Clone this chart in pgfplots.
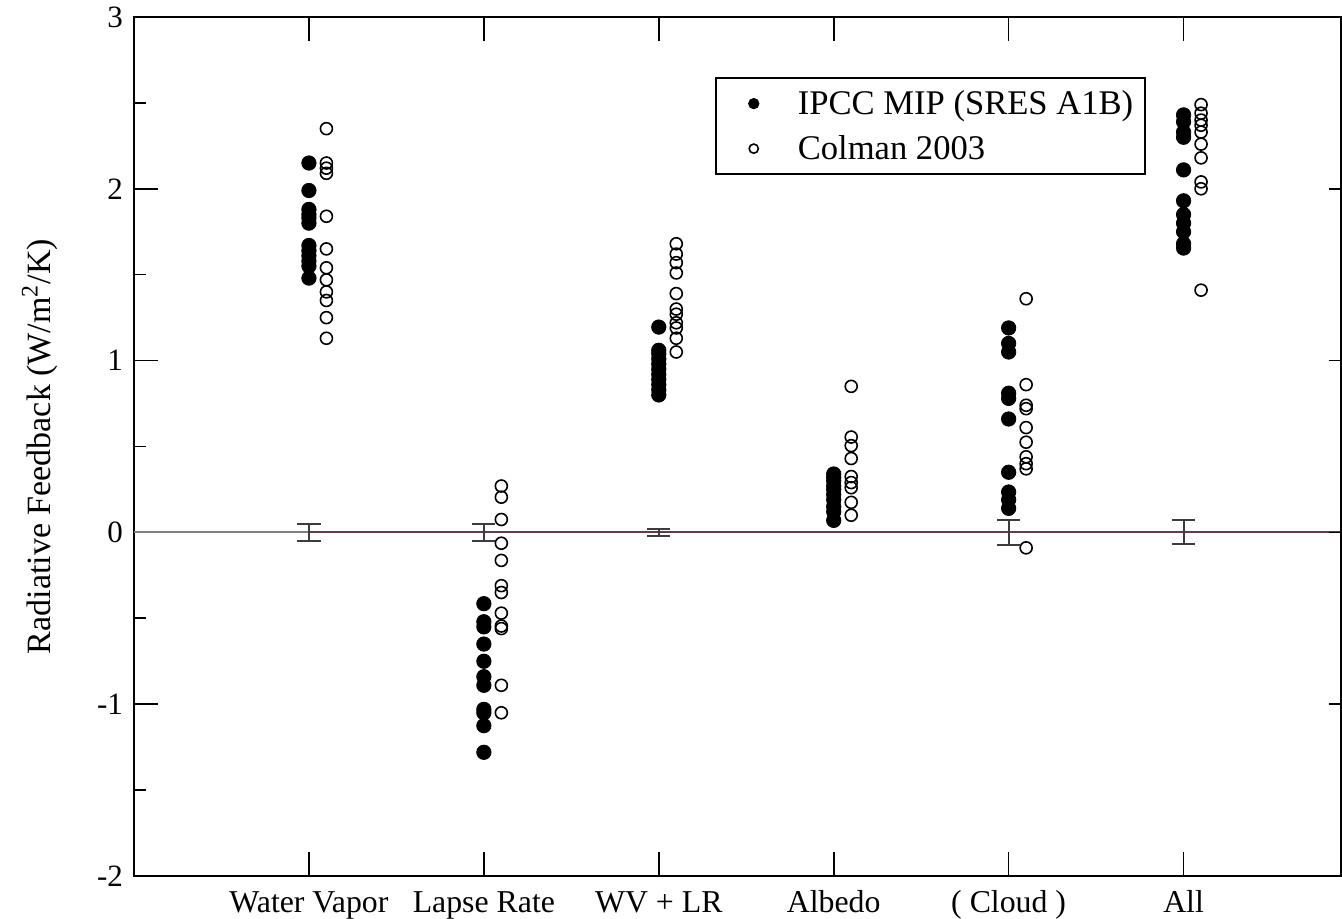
\documentclass[border=0pt]{standalone}
\usepackage{pgfplots}
\pgfplotsset{compat=1.18}
\usepackage{fontspec}
\setmainfont{Liberation Serif}
\definecolor{zeroline}{RGB}{95,60,80}
\definecolor{errgray}{RGB}{60,60,60}

\begin{document}
\begin{tikzpicture}
\begin{axis}[
  scale only axis,
  width=603.5pt, height=429.5pt,
  xmin=0, xmax=6.9,
  ymin=-2, ymax=3,
  axis line style={line width=1pt},
  xtick={1,2,3,4,5,6},
  xticklabels={Water Vapor, Lapse Rate, WV + LR, Albedo, ( Cloud ), All},
  ytick={-2,-1,0,1,2,3},
  minor ytick={-1.5,-0.5,0.5,1.5,2.5},
  ytick pos=left,
  major tick length=12pt,
  minor tick length=6pt,
  tick style={line width=0.8pt, black},
  /pgf/number format/assume math mode=true,
  tick label style={font=\fontsize{15.5}{18}\selectfont},
  xticklabel style={yshift=-4pt, font=\fontsize{15.9}{18}\selectfont,
    text height=10.5pt, text depth=3pt},
  yticklabel style={xshift=-2pt},
  ylabel={Radiative Feedback (W/m\textsuperscript{2}/K)},
  ylabel style={font=\fontsize{17}{19}\selectfont, yshift=13pt},
  legend style={at={(axis cs:3.32,2.65)}, anchor=north west,
    draw=black, line width=1pt, font=\fontsize{17.3}{20}\selectfont,
    inner xsep=4pt, inner ysep=4pt, row sep=5pt,
    nodes={inner sep=2pt}},
  legend cell align=left,
  legend image code/.code={\path[draw=none] (0,0) -- (35pt,0);
    \draw[#1] plot coordinates {(15pt,0pt)};},
  legend image post style={mark size=2.3pt},
  clip=false,
]
\coordinate (bl) at (rel axis cs:0,0);
\coordinate (tr) at (rel axis cs:1,1);

% filled: IPCC MIP, open: Colman 2003
\addplot[only marks, mark=*, mark size=3.6pt, black] coordinates {
(1,2.15)(1,1.99)(1,1.88)(1,1.85)(1,1.83)(1,1.80)(1,1.67)(1,1.64)(1,1.61)(1,1.58)(1,1.55)(1,1.48)
(2,-0.415)(2,-0.52)(2,-0.55)(2,-0.65)(2,-0.75)(2,-0.84)(2,-0.89)(2,-1.03)(2,-1.05)(2,-1.125)(2,-1.28)
(3,1.195)(3,1.06)(3,1.04)(3,1.01)(3,0.98)(3,0.95)(3,0.92)(3,0.89)(3,0.86)(3,0.83)(3,0.80)
(4,0.34)(4,0.32)(4,0.30)(4,0.27)(4,0.25)(4,0.22)(4,0.19)(4,0.15)(4,0.12)(4,0.07)
(5,1.19)(5,1.10)(5,1.05)(5,0.81)(5,0.78)(5,0.66)(5,0.35)(5,0.235)(5,0.19)(5,0.14)
(6,2.43)(6,2.39)(6,2.33)(6,2.30)(6,2.11)(6,1.93)(6,1.85)(6,1.80)(6,1.75)(6,1.68)(6,1.655)
};
\addlegendentry{IPCC MIP (SRES A1B)}
\addplot[only marks, mark=o, mark size=3pt, black, mark options={line width=0.8pt}] coordinates {
(1.1,2.35)(1.1,2.15)(1.1,2.12)(1.1,2.09)(1.1,1.84)(1.1,1.65)(1.1,1.54)(1.1,1.47)(1.1,1.40)(1.1,1.35)(1.1,1.25)(1.1,1.13)
(2.1,0.27)(2.1,0.205)(2.1,0.075)(2.1,-0.063)(2.1,-0.163)(2.1,-0.31)(2.1,-0.35)(2.1,-0.47)(2.1,-0.545)(2.1,-0.56)(2.1,-0.89)(2.1,-1.05)
(3.1,1.68)(3.1,1.62)(3.1,1.57)(3.1,1.51)(3.1,1.39)(3.1,1.30)(3.1,1.27)(3.1,1.22)(3.1,1.19)(3.1,1.13)(3.1,1.05)
(4.1,0.85)(4.1,0.555)(4.1,0.505)(4.1,0.43)(4.1,0.325)(4.1,0.29)(4.1,0.26)(4.1,0.175)(4.1,0.10)
(5.1,1.36)(5.1,0.86)(5.1,0.74)(5.1,0.72)(5.1,0.61)(5.1,0.525)(5.1,0.44)(5.1,0.40)(5.1,0.37)(5.1,-0.09)
(6.1,2.49)(6.1,2.44)(6.1,2.40)(6.1,2.37)(6.1,2.33)(6.1,2.26)(6.1,2.18)(6.1,2.04)(6.1,2.00)(6.1,1.41)
};
\addlegendentry{Colman 2003}

% zero line
\addplot[gray, line width=1pt, forget plot] coordinates {(0,0)(1,0)};
\addplot[zeroline, line width=1pt, forget plot] coordinates {(1,0)(6.9,0)};

% uncertainty bars
\addplot[draw=none, mark=none, forget plot,
  error bars/.cd, y dir=both, y explicit,
  error bar style={errgray, line width=1pt},
  error mark options={rotate=90, mark size=5.8pt, errgray, line width=1pt}]
  coordinates {
  (1,0) +- (0,0.05)
  (2,0) +- (0,0.05)
  (3,0) +- (0,0.02)
  (5,0) +- (0,0.075)
  (6,0) +- (0,0.07)
};
\end{axis}

% right-hand major ticks only
\begin{axis}[
  scale only axis,
  width=603.5pt, height=429.5pt,
  xmin=0, xmax=6.9,
  ymin=-2, ymax=3,
  axis x line=none,
  axis y line*=right,
  axis line style={line width=1pt, -},
  ytick={-2,-1,0,1,2,3},
  yticklabels={},
  major tick length=6pt,
  tick style={line width=0.8pt, black},
]
\end{axis}

\pgfresetboundingbox
\path ([shift={(-67pt,-21.5pt)}]bl) rectangle ([shift={(0.5pt,8.5pt)}]tr);
\end{tikzpicture}
\end{document}
